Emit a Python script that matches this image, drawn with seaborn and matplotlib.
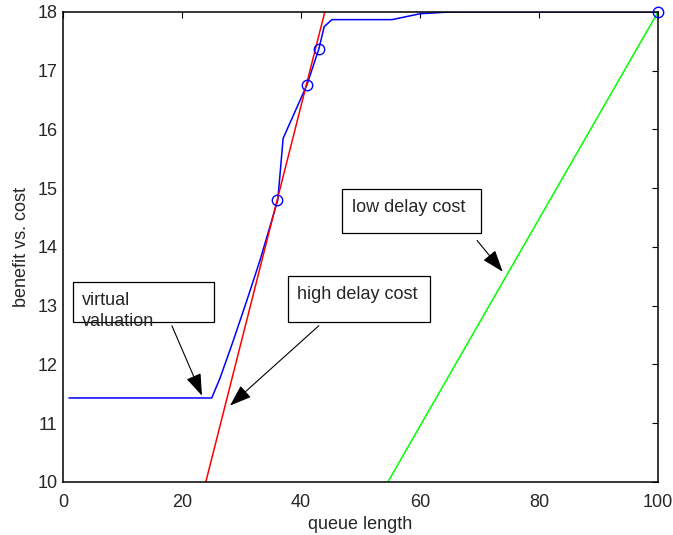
import numpy as np
import pandas as pd
import matplotlib
matplotlib.use("Agg")
import matplotlib.pyplot as plt
from matplotlib.patches import Rectangle
import seaborn as sns

# blue curve: benefit of the queue
queue_len = [1, 25, 26.4, 28.6, 30.9, 33.1, 36.1, 37, 41, 43, 43.9, 45.2, 55.3, 60, 65, 100]
benefit = [11.43, 11.43, 11.77, 12.4, 13.09, 13.77, 14.8, 15.85, 16.76, 17.37, 17.75, 17.87,
           17.87, 17.97, 18.0, 18.0]

# marked points on the blue curve
mark_x = [36, 41, 43, 100]
mark_y = [14.8, 16.75, 17.37, 18.0]

# cost lines
high_x = [24.0, 44.0]
high_y = [10.0, 18.0]
low_x = [54.6, 100.0]
low_y = [10.0, 18.0]

xticks = [0, 20, 40, 60, 80, 100]
yticks = [10, 11, 12, 13, 14, 15, 16, 17, 18]


def main():
    sns.set_style("white")
    plt.rcParams['font.family'] = ['Liberation Sans', 'DejaVu Sans']
    plt.rcParams['font.size'] = 13

    fig = plt.figure(figsize=(6.73, 5.35), dpi=100)
    ax = fig.add_axes([0.0936, 0.0991, 0.8841, 0.8785])

    curve = pd.DataFrame({'x': queue_len, 'y': benefit})
    sns.lineplot(data=curve, x='x', y='y', color=(0, 0, 1), lw=1.1, ax=ax, sort=False)
    sns.lineplot(x=high_x, y=high_y, color=(1, 0, 0), lw=1.1, ax=ax)
    sns.lineplot(x=low_x, y=low_y, color=(0, 1, 0), lw=1.1, ax=ax)
    ax.plot(mark_x, mark_y, 'o', mfc='none', mec=(0, 0, 1), ms=7.5, mew=1.0, clip_on=False, zorder=5)

    ax.set_xlim(0, 100)
    ax.set_ylim(10, 18)
    ax.set_xticks(xticks)
    ax.set_yticks(yticks)
    ax.tick_params(direction='in', length=4.5, width=0.8, top=True, right=True,
                   labelsize=13, color='black')
    ax.tick_params(axis='x', pad=9)
    ax.tick_params(axis='y', pad=4)
    ax.set_xlabel('queue length', fontsize=13, labelpad=3.5)
    ax.set_ylabel('benefit vs. cost', fontsize=13, labelpad=5)
    for s in ax.spines.values():
        s.set_color('black')
        s.set_linewidth(1.1)

    # text boxes
    boxes = [
        (1.68, 12.73, 23.7, 0.68),
        (37.8, 12.73, 23.9, 0.77),
        (46.9, 14.23, 23.35, 0.75),
    ]
    for x0, y0, w, h in boxes:
        ax.add_patch(Rectangle((x0, y0), w, h, fill=False, ec='black', lw=0.9, zorder=6))

    ax.text(3.2, 13.02, 'virtual', fontsize=13, va='baseline', zorder=7)
    ax.text(3.2, 12.66, 'valuation', fontsize=13, va='baseline', zorder=7)
    ax.text(39.3, 13.12, 'high delay cost', fontsize=13, va='baseline', zorder=7)
    ax.text(48.6, 14.59, 'low delay cost', fontsize=13, va='baseline', zorder=7)

    arrows = [
        ((18.3, 12.66), (23.36, 11.47)),
        ((43.0, 12.66), (28.07, 11.30)),
        ((69.6, 14.11), (73.9, 13.58)),
    ]
    for tail, head in arrows:
        ax.annotate('', xy=head, xytext=tail,
                    arrowprops=dict(arrowstyle='-|>,head_length=0.9,head_width=0.32',
                                    color='black', lw=0.8, shrinkA=0, shrinkB=0,
                                    mutation_scale=15))

    fig.savefig('out.png', dpi=100)


if __name__ == "__main__":
    main()
